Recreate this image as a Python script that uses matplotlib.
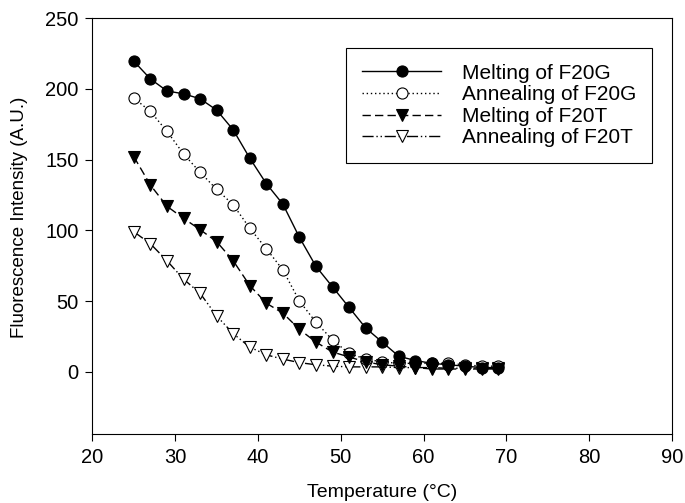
import matplotlib
matplotlib.use('Agg')
import matplotlib.pyplot as plt

plt.rcParams['font.family'] = ['Liberation Sans', 'DejaVu Sans']

temps = [25, 27, 29, 31, 33, 35, 37, 39, 41, 43, 45, 47,
         49, 51, 53, 55, 57, 59, 61, 63, 65, 67, 69]

melt_f20g = [219.5, 207, 198.5, 196.5, 193, 185, 171, 151, 133, 118.5, 95, 74.5,
             60, 45.5, 31, 21, 11, 8, 6, 5, 4, 3, 3]
anneal_f20g = [193.5, 184, 170, 154, 141, 129, 118, 101.5, 87, 72, 50, 35,
               22.5, 13, 9, 7, 6, 6, 6, 6, 5, 4, 4]
melt_f20t = [152, 132, 117, 108.5, 100.5, 92, 78.5, 61, 48.5, 41.5, 30, 21,
             14, 10.5, 7, 5, 4, 3, 2, 2, 2, 2, 2]
anneal_f20t = [99, 90.5, 78.5, 65.5, 55.5, 39.5, 27, 17.5, 12, 9, 6.5, 5,
               4, 3.5, 3.5, 3.5, 3, 3, 3, 2.5, 2.5, 2.5, 2.5]

labels = ['Melting of F20G', 'Annealing of F20G', 'Melting of F20T', 'Annealing of F20T']

fig, ax = plt.subplots(figsize=(6.85, 5.03), dpi=100)
fig.subplots_adjust(left=0.135, right=0.981, top=0.964, bottom=0.137)

ms = 8
ax.plot(temps, melt_f20g, color='black', lw=1.0, linestyle='-',
        marker='o', ms=ms, mfc='black', mec='black', mew=0.8, label=labels[0], zorder=4)
ax.plot(temps, anneal_f20g, color='black', lw=1.0, linestyle=(0, (1, 2)),
        marker='o', ms=ms, mfc='white', mec='black', mew=0.8, label=labels[1], zorder=3)
ax.plot(temps, melt_f20t, color='black', lw=1.0, linestyle=(0, (6, 3)),
        marker='v', ms=ms, mfc='black', mec='black', mew=0.8, label=labels[2], zorder=5)
ax.plot(temps, anneal_f20t, color='black', lw=1.0, linestyle=(0, (8, 2, 1, 2, 1, 2)),
        marker='v', ms=ms, mfc='white', mec='black', mew=0.8, label=labels[3], zorder=2)

ax.set_xlim(20, 90)
ax.set_ylim(-44, 250)
ax.set_xticks(range(20, 91, 10))
ax.set_yticks(range(0, 251, 50))
ax.tick_params(direction='out', length=5, width=0.8, labelsize=14.5, colors='black', pad=5)
for sp in ax.spines.values():
    sp.set_linewidth(0.8)

ax.set_xlabel('Temperature (\u00b0C)', fontsize=14, labelpad=12)
ax.set_ylabel('Fluorescence Intensity (A.U.)', fontsize=13.5)
ax.yaxis.set_label_coords(-0.111, 0.522)

leg = ax.legend(loc='upper right', bbox_to_anchor=(0.9655, 0.928), borderaxespad=0,
                fontsize=15, handlelength=3.8, labelspacing=0.125, fancybox=False,
                edgecolor='black', framealpha=1, borderpad=0.75, handletextpad=1.0)
leg.get_frame().set_linewidth(0.8)

fig.savefig('out.png', dpi=100)
